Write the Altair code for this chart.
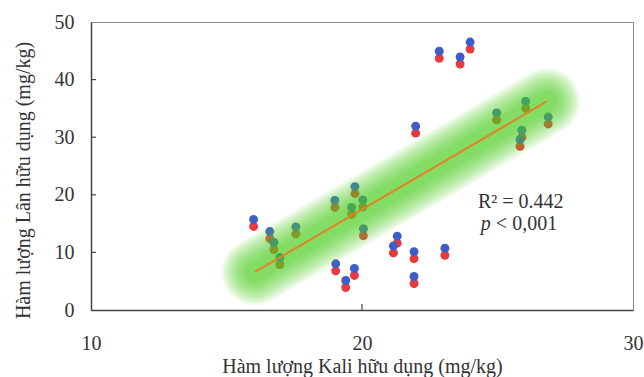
import altair as alt
import pandas as pd

# Scatter data
potassium = [16.0, 16.6, 16.75, 16.97, 17.56, 19.0, 19.74, 19.62, 20.03, 20.05,
             19.03, 19.72, 19.4, 21.3, 21.16, 21.92, 21.92, 23.06, 21.98, 22.85,
             23.62, 23.99, 24.97, 26.04, 25.9, 25.83, 26.87]
phosphorus = [15.2, 13.1, 11.2, 8.6, 13.9, 18.5, 20.9, 17.3, 18.6, 13.6,
              7.5, 6.7, 4.6, 12.3, 10.6, 9.6, 5.3, 10.2, 31.4, 44.4,
              43.4, 46.0, 33.7, 35.7, 30.7, 29.1, 33.0]

# Trend line end points
trend_x = [16.05, 26.82]
trend_y = [6.6, 36.2]

y_ticks = [10, 20, 30, 40]
x_ticks = [20]

FONT = "Liberation Serif"

pts = pd.DataFrame({"k": potassium, "p": phosphorus})
trend = pd.DataFrame({"k": trend_x, "p": trend_y})

xs = alt.Scale(domain=[10, 30], nice=False, zero=False)
ys = alt.Scale(domain=[0, 50], nice=False)

x_enc = alt.X("k:Q", scale=xs, axis=alt.Axis(
    values=[10, 20, 30], title="Hàm lượng Kali hữu dụng (mg/kg)",
    grid=False, ticks=False, tickSize=0, labelPadding=23,
    labelFont=FONT, labelFontSize=20, labelColor="#333",
    titleFont=FONT, titleFontSize=20, titleFontWeight="normal", titleColor="#333",
    titleX=271, titleY=62, titleAnchor="start", titleAlign="center",
    titleBaseline="alphabetic",
    domainColor="#444", domainWidth=1.5, labelFlush=False))
y_enc = alt.Y("p:Q", scale=ys, axis=alt.Axis(
    values=[0, 10, 20, 30, 40, 50], title="Hàm lượng Lân hữu dụng (mg/kg)",
    grid=False, ticks=False, tickSize=0, labelPadding=17,
    labelFont=FONT, labelFontSize=20, labelColor="#333",
    titleFont=FONT, titleFontSize=20, titleFontWeight="normal", titleColor="#333",
    titleX=-68, titleY=158, titleAngle=270, titleAlign="center",
    titleBaseline="middle",
    domainColor="#444", domainWidth=1.5))

red = alt.Chart(pts).mark_circle(size=80, color="#e63a3c", opacity=1, yOffset=4).encode(x=x_enc, y=y_enc)
blue = alt.Chart(pts).mark_circle(size=80, color="#3f5dc6", opacity=1, yOffset=-3).encode(x="k:Q", y="p:Q")

bands = []
for w in [66, 62, 58, 54, 50, 46, 42, 38, 34, 30, 26, 22, 18]:
    bands.append(
        alt.Chart(trend).mark_line(color="#4cd628", strokeWidth=w, strokeCap="round", opacity=0.085)
        .encode(x="k:Q", y="p:Q")
    )

line = alt.Chart(trend).mark_line(color="#e0842a", strokeWidth=2).encode(x="k:Q", y="p:Q")

ytick = alt.Chart(pd.DataFrame({"p": y_ticks})).mark_rule(color="#444", strokeWidth=1.2).encode(
    y="p:Q", x=alt.value(0), x2=alt.value(5))
xtick = alt.Chart(pd.DataFrame({"k": x_ticks})).mark_rule(color="#444", strokeWidth=1.2).encode(
    x="k:Q", y=alt.value(288), y2=alt.value(282))

r2 = alt.Chart(pd.DataFrame({"t": ["R² = 0.442"]})).mark_text(
    font=FONT, fontSize=20, color="#333", align="left", baseline="alphabetic").encode(
    x=alt.datum(24.28), y=alt.datum(17.75), text="t:N")
pit = alt.Chart(pd.DataFrame({"t": ["p"]})).mark_text(
    font=FONT, fontSize=20, fontStyle="italic", color="#333", align="left", baseline="alphabetic").encode(
    x=alt.datum(24.38), y=alt.datum(13.9), text="t:N")
prest = alt.Chart(pd.DataFrame({"t": ["< 0,001"]})).mark_text(
    font=FONT, fontSize=20, color="#333", align="left", baseline="alphabetic").encode(
    x=alt.datum(24.94), y=alt.datum(13.9), text="t:N")

chart = alt.layer(red, blue, *bands, line, ytick, xtick, r2, pit, prest).properties(
    width=542, height=288,
    autosize=alt.AutoSizeParams(type="none"),
    padding={"left": 91, "top": 22, "right": 11, "bottom": 67},
    background="white",
).configure_view(stroke="#888", strokeWidth=1)

chart.save("out.html", embed_options={"renderer": "svg", "actions": False})
